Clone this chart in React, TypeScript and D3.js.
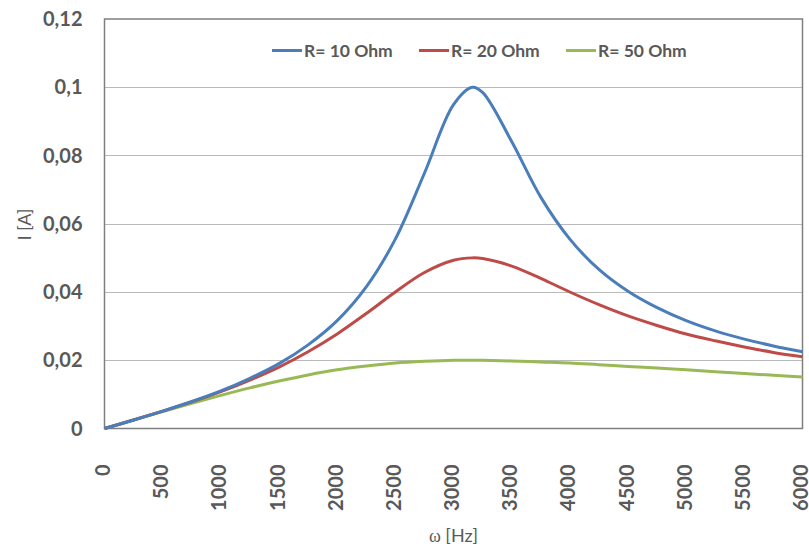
import { useEffect, useRef } from "react";
import * as d3 from "d3";

// angular frequency samples [Hz]
const omega = [
  0, 250, 500, 750, 1000, 1250, 1500, 1750, 2000, 2250, 2500, 2750, 3000,
  3162, 3250, 3500, 3750, 4000, 4250, 4500, 4750, 5000, 5250, 5500, 5750, 6000,
];

// current [A]
const r10 = [
  0, 0.0025, 0.0051, 0.0079, 0.011, 0.0147, 0.019, 0.0245, 0.0316, 0.0415,
  0.0555, 0.0748, 0.0949, 0.1, 0.0985, 0.0841, 0.0678, 0.0555, 0.0466, 0.0402,
  0.0354, 0.0316, 0.0286, 0.0262, 0.0242, 0.0225,
];
const r20 = [
  0, 0.0025, 0.0051, 0.0078, 0.0108, 0.0142, 0.018, 0.0225, 0.0277, 0.0337,
  0.04, 0.0457, 0.0493, 0.05, 0.0498, 0.0476, 0.044, 0.04, 0.0363, 0.033,
  0.0302, 0.0277, 0.0257, 0.0239, 0.0223, 0.021,
];
const r50 = [
  0, 0.0025, 0.005, 0.0074, 0.0097, 0.0119, 0.0139, 0.0157, 0.0172, 0.0183,
  0.0192, 0.0197, 0.02, 0.02, 0.02, 0.0198, 0.0195, 0.0192, 0.0187, 0.0182,
  0.0177, 0.0172, 0.0166, 0.0161, 0.0156, 0.0151,
];

const seriesNames = ["R= 10 Ohm", "R= 20 Ohm", "R= 50 Ohm"];
const seriesColors = ["#4a7ebb", "#be4b48", "#98b954"];
const yTicks = [0, 0.02, 0.04, 0.06, 0.08, 0.1, 0.12];
const xTicks = [0, 500, 1000, 1500, 2000, 2500, 3000, 3500, 4000, 4500, 5000, 5500, 6000];

const FONT = "Lato, 'Open Sans', sans-serif";

export default function App() {
  const ref = useRef<SVGSVGElement>(null);

  useEffect(() => {
    const W = 809;
    const H = 547;
    const margin = { top: 19, right: 6.5, bottom: 118.5, left: 104.5 };
    const width = W - margin.left - margin.right;
    const height = H - margin.top - margin.bottom;

    const root = d3.select(ref.current);
    root.selectAll("*").remove();
    root.append("rect").attr("width", W).attr("height", H).attr("fill", "#fff");

    const svg = root
      .append("g")
      .attr("transform", "translate(" + margin.left + "," + margin.top + ")");

    const x = d3.scaleLinear().domain([0, 6000]).range([0, width]);
    const y = d3.scaleLinear().domain([0, 0.12]).range([height, 0]);

    // gridlines
    svg
      .selectAll("line.grid")
      .data(yTicks.slice(1, -1))
      .enter()
      .append("line")
      .attr("x1", 0)
      .attr("x2", width)
      .attr("y1", (d) => Math.round(y(d)) + 0.5)
      .attr("y2", (d) => Math.round(y(d)) + 0.5)
      .attr("stroke", "#bababa")
      .attr("stroke-width", 1.2);

    // plot frame
    svg
      .append("rect")
      .attr("x", 0)
      .attr("y", 0)
      .attr("width", width)
      .attr("height", height)
      .attr("fill", "none")
      .attr("stroke", "#7f7f7f")
      .attr("stroke-width", 1.5);

    // y axis labels
    svg
      .selectAll("text.ytick")
      .data(yTicks)
      .enter()
      .append("text")
      .attr("x", -22)
      .attr("y", (d) => y(d))
      .attr("dy", "0.35em")
      .attr("text-anchor", "end")
      .attr("fill", "#595959")
      .style("font-family", FONT)
      .style("font-weight", "bold")
      .style("font-size", "20px")
      .text((d) => d3.format("~g")(d).replace(".", ","));

    // x axis labels, rotated
    svg
      .selectAll("text.xtick")
      .data(xTicks)
      .enter()
      .append("text")
      .attr("transform", (d) => "translate(" + x(d) + "," + (height + 36) + ")rotate(-90)")
      .attr("dy", "0.28em")
      .attr("text-anchor", "end")
      .attr("fill", "#595959")
      .style("font-family", FONT)
      .style("font-weight", "bold")
      .style("font-size", "20px")
      .text((d) => String(d));

    // axis titles
    svg
      .append("text")
      .attr("transform", "translate(" + (31 - margin.left) + "," + (224.5 - margin.top) + ")rotate(-90)")
      .attr("text-anchor", "middle")
      .attr("fill", "#595959")
      .style("font-family", FONT)
      .style("font-size", "18px")
      .text("I [A]");

    const xTitle = svg
      .append("text")
      .attr("x", width / 2)
      .attr("y", 542 - margin.top)
      .attr("text-anchor", "middle")
      .attr("fill", "#595959")
      .style("font-family", FONT)
      .style("font-size", "18px");
    xTitle.append("tspan").style("font-family", "'Liberation Serif', serif").text("ω");
    xTitle.append("tspan").text(" [Hz]");

    // curves
    const series = [r10, r20, r50];
    const line = d3
      .line<number>()
      .x((_, i) => x(omega[i]))
      .y((d) => y(d))
      .curve(d3.curveCatmullRom.alpha(0.5));

    [2, 1, 0].forEach((k) => {
      svg
        .append("path")
        .datum(series[k])
        .attr("d", line)
        .attr("fill", "none")
        .attr("stroke", seriesColors[k])
        .attr("stroke-width", 3)
        .attr("stroke-linejoin", "round");
    });

    // legend
    const legendX = [272, 419, 566];
    const legend = svg
      .selectAll("g.legend")
      .data(seriesNames)
      .enter()
      .append("g")
      .attr("transform", (_, i) => "translate(" + (legendX[i] - margin.left) + "," + (50.5 - margin.top) + ")");
    legend
      .append("line")
      .attr("x1", 0)
      .attr("x2", 30)
      .attr("stroke", (_, i) => seriesColors[i])
      .attr("stroke-width", 3);
    legend
      .append("text")
      .attr("x", 32)
      .attr("dy", "0.35em")
      .attr("fill", "#595959")
      .style("font-family", FONT)
      .style("font-weight", "bold")
      .style("font-size", "17.5px")
      .text((d) => d);
  }, []);

  return (
    <svg
      ref={ref}
      width={809}
      height={547}
      style={{ position: "absolute", left: 0, top: 0 }}
    />
  );
}
